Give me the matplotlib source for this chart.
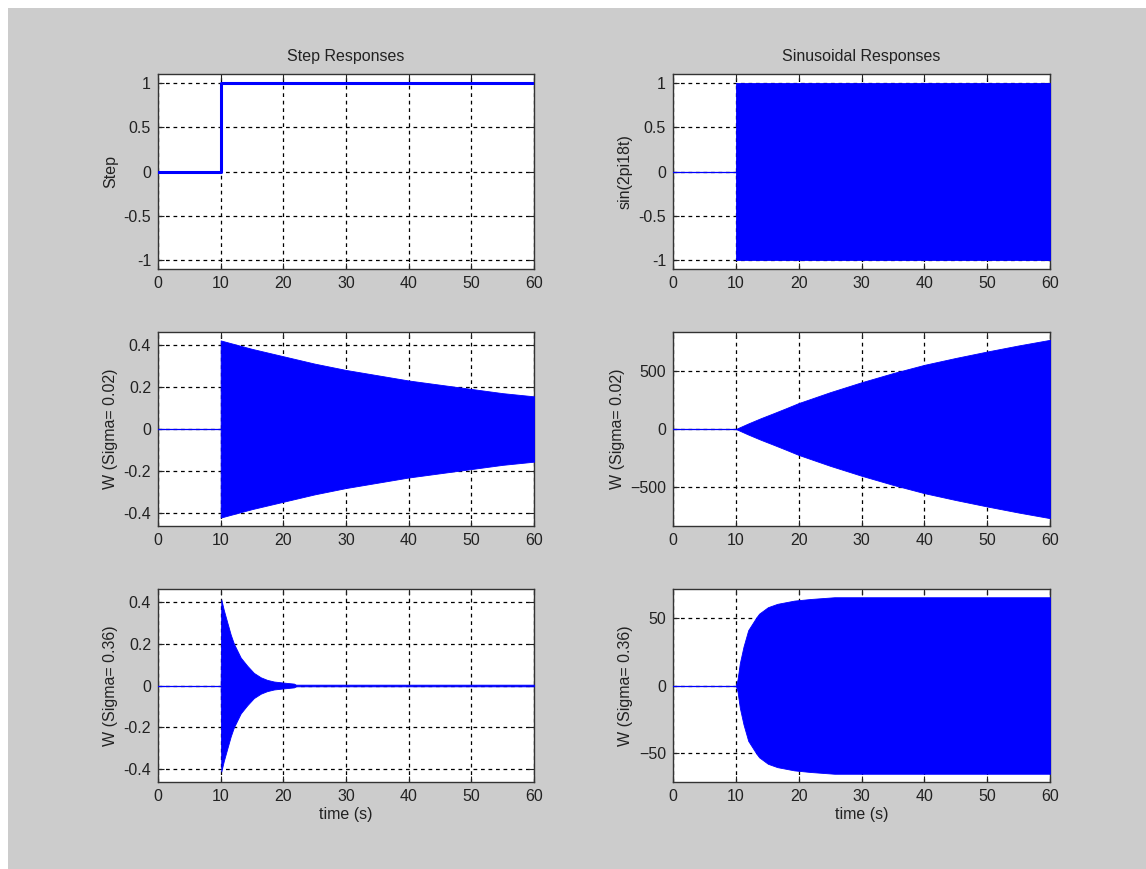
import numpy as np
import matplotlib
matplotlib.use("Agg")
import matplotlib.pyplot as plt
from matplotlib.patches import Rectangle

plt.rcParams['font.family'] = ['Liberation Sans', 'DejaVu Sans']

# ---- data ----
t_pre = [0, 10]            # quiet segment before the input starts
y_pre = [0, 0]

step_t = [0, 10, 10, 60]
step_y = [0, 0, 1, 1]

sin_t = [10, 60]
sin_env = [1.0, 1.0]

w002_step_t = [10, 15, 20, 25, 30, 35, 40, 45, 50, 55, 60]
w002_step_env = [0.42, 0.38, 0.345, 0.31, 0.28, 0.255, 0.23, 0.21, 0.19, 0.17, 0.155]

w002_sin_t = [10, 12, 14, 16, 18, 20, 25, 30, 35, 40, 45, 50, 55, 60]
w002_sin_env = [0, 48, 93, 135, 178, 222, 315, 400, 478, 549, 608, 663, 715, 763]

w036_step_t = [10, 10.1, 10.5, 11.06, 11.6, 12.1, 13.2, 14.25, 15.3, 16.4, 17.4,
               18.5, 20, 21.7, 22, 60]
w036_step_env = [0.0, 0.41, 0.36, 0.30, 0.243, 0.20, 0.133, 0.094, 0.06, 0.039,
                 0.027, 0.019, 0.014, 0.009, 0.004, 0.004]

w036_sin_t = [10, 10.27, 10.64, 11.22, 11.97, 13.2, 13.7, 15.1, 16.6, 19.3, 21.9, 25.7, 60]
w036_sin_env = [0, 4.4, 16.6, 28.8, 41, 50, 53.2, 58, 60.5, 62.9, 64.1, 65.4, 65.4]

xticks = [0, 10, 20, 30, 40, 50, 60]

BLUE = '#0000ff'
W, H = 1146, 869
fig = plt.figure(figsize=(W / 100, H / 100), dpi=100, facecolor='white')
fig.patches.append(Rectangle((8 / W, 0), 1, 1 - 8 / H, transform=fig.transFigure,
                             facecolor='#cccccc', edgecolor='none', zorder=-10))

cols = [(158, 534), (673, 1050)]
rows = [(74, 269), (332, 526), (589, 782)]


def make_ax(r, c):
    x0, x1 = cols[c]
    y0, y1 = rows[r]
    ax = fig.add_axes([x0 / W, 1 - y1 / H, (x1 - x0) / W, (y1 - y0) / H])
    ax.set_facecolor('white')
    ax.set_xlim(0, 60)
    ax.set_xticks(xticks)
    ax.grid(True, color='black', linestyle=(0, (3, 3)), linewidth=0.9)
    ax.set_axisbelow(True)
    ax.tick_params(direction='in', top=True, right=True, length=4, width=0.8,
                   labelsize=11.5, colors='#222222', pad=5)
    for s in ax.spines.values():
        s.set_color('#333333')
        s.set_linewidth(1.0)
    return ax


def env_fill(ax, t, env):
    e = np.asarray(env, dtype=float)
    ax.fill_between(t, -e, e, color=BLUE, linewidth=0.6, edgecolor=BLUE, zorder=3)


lab = dict(fontsize=11.5, color='#222222')

# Step
ax = make_ax(0, 0)
ax.plot(step_t, step_y, color=BLUE, lw=2.2, zorder=3)
ax.set_ylim(-1.1, 1.1)
ax.set_yticks([-1, -0.5, 0, 0.5, 1])
ax.set_yticklabels(['-1', '-0.5', '0', '0.5', '1'])
ax.set_ylabel('Step', **lab)
ax.set_title('Step Responses', fontsize=11.5, color='#222222', pad=9)

# Sinusoid
ax = make_ax(0, 1)
ax.plot(t_pre, y_pre, color=BLUE, lw=0.9, zorder=3)
env_fill(ax, sin_t, sin_env)
ax.set_ylim(-1.1, 1.1)
ax.set_yticks([-1, -0.5, 0, 0.5, 1])
ax.set_yticklabels(['-1', '-0.5', '0', '0.5', '1'])
ax.set_ylabel('sin(2pi18t)', **lab)
ax.set_title('Sinusoidal Responses', fontsize=11.5, color='#222222', pad=9)

# W sigma 0.02, step
ax = make_ax(1, 0)
ax.plot(t_pre, y_pre, color=BLUE, lw=0.9, zorder=3)
env_fill(ax, [10] + w002_step_t, [0] + w002_step_env)
ax.set_ylim(-0.46, 0.46)
ax.set_yticks([-0.4, -0.2, 0, 0.2, 0.4])
ax.set_yticklabels(['-0.4', '-0.2', '0', '0.2', '0.4'])
ax.set_ylabel('W (Sigma= 0.02)', **lab)

# W sigma 0.02, sinusoid
ax = make_ax(1, 1)
ax.plot(t_pre, y_pre, color=BLUE, lw=0.9, zorder=3)
env_fill(ax, w002_sin_t, w002_sin_env)
ax.set_ylim(-830, 830)
ax.set_yticks([-500, 0, 500])
ax.set_ylabel('W (Sigma= 0.02)', **lab)

# W sigma 0.36, step
ax = make_ax(2, 0)
ax.plot(t_pre, y_pre, color=BLUE, lw=0.9, zorder=3)
env_fill(ax, w036_step_t, w036_step_env)
ax.set_ylim(-0.46, 0.46)
ax.set_yticks([-0.4, -0.2, 0, 0.2, 0.4])
ax.set_yticklabels(['-0.4', '-0.2', '0', '0.2', '0.4'])
ax.set_ylabel('W (Sigma= 0.36)', **lab)
ax.set_xlabel('time (s)', labelpad=2, **lab)

# W sigma 0.36, sinusoid
ax = make_ax(2, 1)
ax.plot(t_pre, y_pre, color=BLUE, lw=0.9, zorder=3)
env_fill(ax, w036_sin_t, w036_sin_env)
ax.set_ylim(-71.5, 71.5)
ax.set_yticks([-50, 0, 50])
ax.set_ylabel('W (Sigma= 0.36)', **lab)
ax.set_xlabel('time (s)', labelpad=2, **lab)

fig.savefig('out.png', dpi=100, facecolor=fig.get_facecolor())
